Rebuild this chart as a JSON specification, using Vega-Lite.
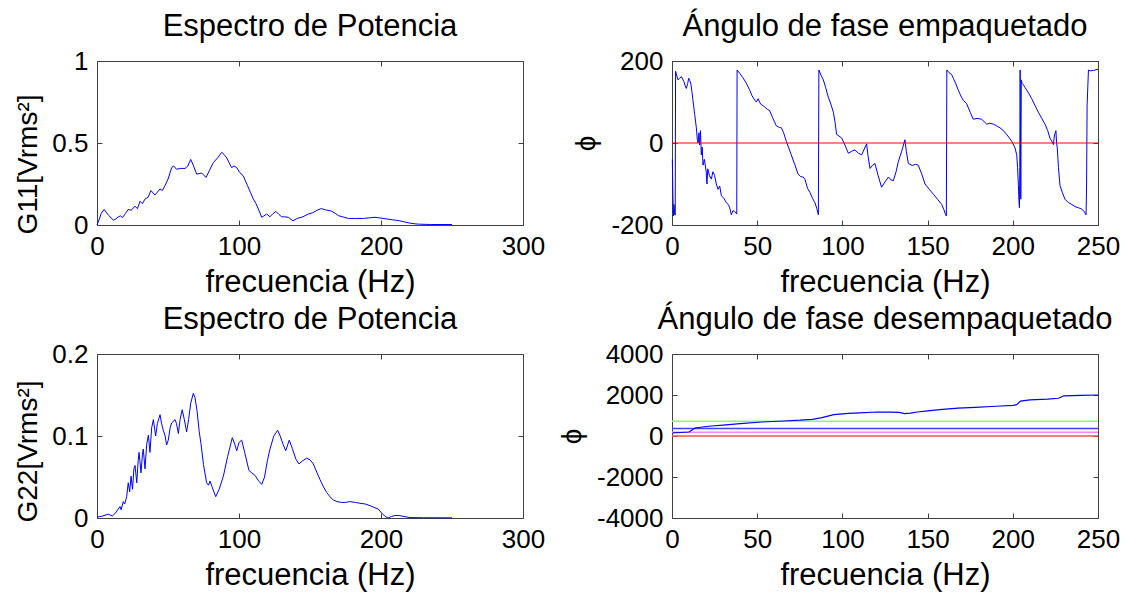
{
  "$schema": "https://vega.github.io/schema/vega-lite/v6.json",
  "padding": {"left": 14, "top": 10, "right": 5, "bottom": 2},
  "background": "#ffffff",
  "config": {
    "font": "Liberation Sans",
    "view": {"stroke": "#404040", "strokeWidth": 1},
    "title": {"fontSize": 31, "fontWeight": "normal", "font": "Liberation Sans", "color": "#000000", "offset": 5, "anchor": "middle", "frame": "group"},
    "axis": {"domain": false, "grid": false, "ticks": true, "tickSize": -5, "tickColor": "#404040", "labelFontSize": 26, "labelColor": "#000000", "labelFont": "Liberation Sans", "titleFont": "Liberation Sans", "titleFontSize": 28, "titleFontWeight": "normal", "titleColor": "#000000", "labelFlush": false, "labelOverlap": false, "labelExpr": "'' + datum.value"},
    "axisX": {"labelPadding": 13, "titlePadding": 8, "titleFontSize": 31},
    "axisY": {"labelPadding": 14, "titlePadding": 9}
  },
  "datasets": {
    "g11": [
      {"f":0,"v":0.0},{"f":1.4,"v":0.03},{"f":3,"v":0.07},{"f":5,"v":0.095},{"f":8,"v":0.06},{"f":11.5,"v":0.03},{"f":13,"v":0.035},{"f":15,"v":0.05},{"f":16.5,"v":0.055},{"f":18,"v":0.045},{"f":20,"v":0.07},{"f":22,"v":0.095},{"f":24,"v":0.09},{"f":26.8,"v":0.114},{"f":28.5,"v":0.1},{"f":30.3,"v":0.145},{"f":32,"v":0.13},{"f":33.8,"v":0.158},{"f":36,"v":0.17},{"f":38,"v":0.21},{"f":40.8,"v":0.183},{"f":42.5,"v":0.2},{"f":44.4,"v":0.22},{"f":46,"v":0.21},{"f":47.9,"v":0.24},{"f":50,"v":0.28},{"f":52.6,"v":0.35},{"f":54,"v":0.36},{"f":56,"v":0.34},{"f":59,"v":0.345},{"f":62,"v":0.345},{"f":64,"v":0.36},{"f":66,"v":0.4},{"f":68,"v":0.36},{"f":70.2,"v":0.31},{"f":73.7,"v":0.317},{"f":76.8,"v":0.29},{"f":79,"v":0.33},{"f":81.9,"v":0.38},{"f":85,"v":0.41},{"f":87.8,"v":0.443},{"f":89.5,"v":0.43},{"f":91.3,"v":0.41},{"f":93,"v":0.38},{"f":94.8,"v":0.35},{"f":96.5,"v":0.36},{"f":98.4,"v":0.35},{"f":100.5,"v":0.32},{"f":103,"v":0.3},{"f":106,"v":0.24},{"f":108,"v":0.2},{"f":110,"v":0.16},{"f":112,"v":0.13},{"f":114,"v":0.09},{"f":116,"v":0.047},{"f":117.5,"v":0.055},{"f":119.5,"v":0.067},{"f":121.8,"v":0.05},{"f":124,"v":0.07},{"f":126,"v":0.083},{"f":128,"v":0.065},{"f":130,"v":0.05},{"f":132,"v":0.05},{"f":134.7,"v":0.047},{"f":138,"v":0.026},{"f":141,"v":0.04},{"f":145,"v":0.05},{"f":148.8,"v":0.067},{"f":152,"v":0.075},{"f":155,"v":0.09},{"f":158,"v":0.1},{"f":161,"v":0.092},{"f":165,"v":0.085},{"f":168,"v":0.07},{"f":170,"v":0.057},{"f":173,"v":0.05},{"f":177,"v":0.04},{"f":182,"v":0.04},{"f":187.6,"v":0.04},{"f":192,"v":0.044},{"f":195.8,"v":0.047},{"f":200,"v":0.042},{"f":204,"v":0.037},{"f":208,"v":0.032},{"f":213,"v":0.026},{"f":217,"v":0.018},{"f":220,"v":0.012},{"f":224,"v":0.007},{"f":227,"v":0.005},{"f":235,"v":0.003},{"f":243,"v":0.003},{"f":250,"v":0.003}
    ],
    "g22": [
      {"f":0,"v":0.001},{"f":3,"v":0.002},{"f":8,"v":0.0046},{"f":10.8,"v":0.0025},{"f":13,"v":0.006},{"f":16.2,"v":0.014},{"f":17,"v":0.01},{"f":18.5,"v":0.02},{"f":19.5,"v":0.017},{"f":20.9,"v":0.026},{"f":22,"v":0.043},{"f":23,"v":0.032},{"f":24,"v":0.051},{"f":25,"v":0.035},{"f":26,"v":0.06},{"f":26.8,"v":0.064},{"f":28,"v":0.043},{"f":29,"v":0.07},{"f":29.6,"v":0.08},{"f":31,"v":0.055},{"f":32,"v":0.078},{"f":32.6,"v":0.084},{"f":33.8,"v":0.06},{"f":35,"v":0.09},{"f":36.2,"v":0.101},{"f":37.3,"v":0.08},{"f":38.5,"v":0.11},{"f":39.7,"v":0.12},{"f":41.3,"v":0.1},{"f":42.5,"v":0.115},{"f":44.4,"v":0.126},{"f":45.5,"v":0.115},{"f":46.7,"v":0.107},{"f":48,"v":0.1},{"f":49,"v":0.089},{"f":50.2,"v":0.095},{"f":51.5,"v":0.11},{"f":52.6,"v":0.116},{"f":55,"v":0.12},{"f":56,"v":0.115},{"f":57.3,"v":0.103},{"f":58.5,"v":0.12},{"f":60,"v":0.132},{"f":61.5,"v":0.12},{"f":63.1,"v":0.105},{"f":64.5,"v":0.12},{"f":66,"v":0.14},{"f":67.8,"v":0.152},{"f":69,"v":0.147},{"f":70.5,"v":0.13},{"f":72,"v":0.105},{"f":73.2,"v":0.091},{"f":75,"v":0.065},{"f":77.2,"v":0.043},{"f":78.5,"v":0.04},{"f":79.6,"v":0.045},{"f":81,"v":0.038},{"f":83.6,"v":0.026},{"f":86,"v":0.035},{"f":89,"v":0.051},{"f":92,"v":0.075},{"f":95.3,"v":0.098},{"f":97,"v":0.09},{"f":98.4,"v":0.082},{"f":100,"v":0.092},{"f":101.9,"v":0.095},{"f":104,"v":0.08},{"f":107,"v":0.058},{"f":109,"v":0.055},{"f":111.3,"v":0.052},{"f":113.5,"v":0.046},{"f":116,"v":0.041},{"f":118,"v":0.05},{"f":120,"v":0.07},{"f":121.8,"v":0.084},{"f":124.5,"v":0.1},{"f":127.2,"v":0.107},{"f":129,"v":0.1},{"f":131,"v":0.09},{"f":132.9,"v":0.082},{"f":135.4,"v":0.095},{"f":137.5,"v":0.085},{"f":140,"v":0.072},{"f":142.2,"v":0.066},{"f":145,"v":0.07},{"f":147.7,"v":0.073},{"f":150,"v":0.071},{"f":152.3,"v":0.066},{"f":155,"v":0.055},{"f":157,"v":0.047},{"f":159.5,"v":0.038},{"f":161.8,"v":0.031},{"f":164,"v":0.026},{"f":166.4,"v":0.022},{"f":169,"v":0.02},{"f":172.3,"v":0.019},{"f":175,"v":0.019},{"f":178,"v":0.02},{"f":182,"v":0.019},{"f":185.2,"v":0.018},{"f":189,"v":0.017},{"f":192.3,"v":0.015},{"f":195,"v":0.013},{"f":198,"v":0.011},{"f":200.5,"v":0.006},{"f":202.8,"v":0.002},{"f":205,"v":0.0},{"f":207.5,"v":0.002},{"f":209.9,"v":0.003},{"f":213,"v":0.003},{"f":215.6,"v":0.002},{"f":220.4,"v":0.0005},{"f":230,"v":0.0003},{"f":250,"v":0.0002}
    ],
    "wrapped": [
      {"f":0.2,"p":-40},{"f":0.5,"p":-120},{"f":0.8,"p":-178},{"f":1.2,"p":-150},{"f":1.6,"p":-175},{"f":1.9,"p":-176},{"f":2.1,"p":175},{"f":3.5,"p":154},{"f":4.5,"p":158},{"f":5.5,"p":162},{"f":7,"p":150},{"f":7.7,"p":140},{"f":8.4,"p":133},{"f":9.2,"p":145},{"f":9.8,"p":158},{"f":10.4,"p":152},{"f":11,"p":146},{"f":11.7,"p":125},{"f":12.3,"p":104},{"f":13.3,"p":70},{"f":14.3,"p":37},{"f":14.8,"p":10},{"f":15.3,"p":0},{"f":15.8,"p":25},{"f":16.2,"p":-5},{"f":16.7,"p":30},{"f":17.2,"p":-29},{"f":17.7,"p":-10},{"f":18.2,"p":-54},{"f":19,"p":-40},{"f":20.1,"p":-71},{"f":20.5,"p":-100},{"f":21,"p":-63},{"f":22,"p":-80},{"f":23.1,"p":-88},{"f":24,"p":-70},{"f":25,"p":-79},{"f":26,"p":-100},{"f":27,"p":-113},{"f":28,"p":-105},{"f":29,"p":-129},{"f":30.5,"p":-135},{"f":31.9,"p":-146},{"f":33,"p":-150},{"f":33.9,"p":-158},{"f":34.8,"p":-175},{"f":35.8,"p":-165},{"f":36.8,"p":-167},{"f":38,"p":-173},{"f":38.2,"p":178},{"f":39.7,"p":170},{"f":41.5,"p":160},{"f":43.6,"p":146},{"f":45.5,"p":130},{"f":47,"p":115},{"f":48.5,"p":105},{"f":49.5,"p":100},{"f":50.5,"p":108},{"f":52,"p":95},{"f":54.4,"p":88},{"f":56,"p":82},{"f":57.3,"p":79},{"f":59,"p":62},{"f":61.2,"p":42},{"f":63,"p":38},{"f":64.2,"p":37},{"f":65.5,"p":25},{"f":67.1,"p":4},{"f":68.5,"p":-12},{"f":70,"p":-29},{"f":72,"p":-52},{"f":73.9,"p":-75},{"f":75.5,"p":-82},{"f":76.9,"p":-83},{"f":78,"p":-88},{"f":79.5,"p":-110},{"f":81,"p":-121},{"f":82.5,"p":-135},{"f":83.9,"p":-146},{"f":85,"p":-160},{"f":85.9,"p":-175},{"f":86.2,"p":178},{"f":87.5,"p":165},{"f":88.8,"p":154},{"f":90.2,"p":135},{"f":91.7,"p":112},{"f":93.2,"p":95},{"f":94.7,"p":75},{"f":95.7,"p":50},{"f":96.6,"p":21},{"f":98,"p":17},{"f":99.6,"p":12},{"f":101.5,"p":-5},{"f":103.5,"p":-25},{"f":105.5,"p":-20},{"f":107.4,"p":-17},{"f":109.5,"p":-25},{"f":111.3,"p":-29},{"f":112.8,"p":-15},{"f":114.2,"p":-2},{"f":115,"p":-30},{"f":116.2,"p":-62},{"f":117.5,"p":-55},{"f":119.1,"p":-50},{"f":121,"p":-80},{"f":123,"p":-108},{"f":125,"p":-95},{"f":127,"p":-83},{"f":128.5,"p":-90},{"f":129.9,"p":-92},{"f":131.5,"p":-70},{"f":132.8,"p":-46},{"f":134.8,"p":-20},{"f":136.7,"p":8},{"f":137.5,"p":-20},{"f":138.7,"p":-50},{"f":141,"p":-55},{"f":142.8,"p":-52},{"f":144.5,"p":-54},{"f":146.5,"p":-75},{"f":148.5,"p":-100},{"f":151,"p":-113},{"f":153.4,"p":-125},{"f":156,"p":-138},{"f":158.3,"p":-150},{"f":159.5,"p":-162},{"f":160.6,"p":-175},{"f":161,"p":-178},{"f":161.3,"p":178},{"f":162.5,"p":172},{"f":164.1,"p":167},{"f":165.1,"p":158},{"f":166.5,"p":145},{"f":168,"p":129},{"f":169.5,"p":115},{"f":171,"p":104},{"f":172.9,"p":96},{"f":175,"p":75},{"f":176.8,"p":58},{"f":179,"p":60},{"f":181.7,"p":58},{"f":183.2,"p":52},{"f":184.7,"p":46},{"f":186.5,"p":48},{"f":188.6,"p":46},{"f":190.5,"p":42},{"f":192.5,"p":37},{"f":194.5,"p":30},{"f":196.4,"p":21},{"f":198,"p":12},{"f":199.4,"p":4},{"f":200.5,"p":-5},{"f":201.3,"p":-12},{"f":202.3,"p":-29},{"f":202.8,"p":-60},{"f":203.3,"p":-104},{"f":203.6,"p":-140},{"f":203.9,"p":-158},{"f":204.1,"p":-60},{"f":204.3,"p":178},{"f":204.5,"p":40},{"f":204.7,"p":-137},{"f":204.85,"p":30},{"f":205,"p":154},{"f":205.5,"p":145},{"f":206.2,"p":142},{"f":207.2,"p":135},{"f":208.2,"p":129},{"f":209.5,"p":120},{"f":211.1,"p":108},{"f":213,"p":92},{"f":215,"p":75},{"f":217,"p":60},{"f":218.9,"p":46},{"f":220.5,"p":30},{"f":221.8,"p":12},{"f":222.8,"p":5},{"f":223.8,"p":-4},{"f":224.5,"p":20},{"f":225.3,"p":30},{"f":225.7,"p":0},{"f":226.1,"p":-12},{"f":226.8,"p":-60},{"f":227.7,"p":-104},{"f":229,"p":-120},{"f":230.6,"p":-137},{"f":232.5,"p":-145},{"f":234.6,"p":-150},{"f":236.5,"p":-155},{"f":238.4,"p":-158},{"f":240,"p":-160},{"f":241.5,"p":-165},{"f":243,"p":-175},{"f":243.3,"p":-100},{"f":243.6,"p":92},{"f":244.4,"p":178},{"f":245.4,"p":176},{"f":247.5,"p":177},{"f":250,"p":180}
    ],
    "zero": [{"p":0}],
    "unwrapped": [
      {"f":0.5,"p":150},{"f":5,"p":170},{"f":10,"p":195},{"f":12,"p":300},{"f":13.4,"p":390},{"f":18,"p":440},{"f":23,"p":488},{"f":30,"p":530},{"f":40,"p":600},{"f":52.7,"p":683},{"f":65.4,"p":732},{"f":75,"p":770},{"f":82.4,"p":813},{"f":88,"p":900},{"f":95,"p":1040},{"f":103.6,"p":1100},{"f":110,"p":1130},{"f":120.6,"p":1170},{"f":128,"p":1160},{"f":133.3,"p":1150},{"f":136.5,"p":1090},{"f":140,"p":1120},{"f":144,"p":1170},{"f":150,"p":1230},{"f":158.8,"p":1300},{"f":168,"p":1360},{"f":177.9,"p":1400},{"f":190,"p":1450},{"f":200.2,"p":1496},{"f":202.3,"p":1528},{"f":204.5,"p":1700},{"f":210,"p":1760},{"f":220.4,"p":1800},{"f":226.8,"p":1840},{"f":230,"p":1960},{"f":240,"p":1980},{"f":250,"p":2000}
    ],
    "levels": [{"k":"r","p":0},{"k":"m","p":180},{"k":"b","p":360},{"k":"g","p":720}]
  },
  "columns": 2,
  "bounds": "flush",
  "align": "all",
  "spacing": {"row": 129, "column": 149},
  "concat": [
    {
      "width": 426, "height": 164,
      "title": {"text": "Espectro de Potencia"},
      "data": {"name": "g11"},
      "layer": [
        {"mark": {"type": "line", "color": "#0000ff", "strokeWidth": 1},
         "encoding": {
           "x": {"field": "f", "type": "quantitative", "scale": {"domain": [0, 300], "nice": false}, "axis": {"values": [0, 100, 200, 300], "title": "frecuencia (Hz)"}},
           "y": {"field": "v", "type": "quantitative", "scale": {"domain": [0, 1], "nice": false}, "axis": {"values": [0, 0.5, 1], "title": "G11[Vrms²]", "titleY": 103}}}},
        {"mark": {"type": "line", "opacity": 0},
         "encoding": {
           "x": {"field": "f", "type": "quantitative", "axis": {"orient": "top", "values": [0, 100, 200, 300], "labels": false, "title": null}},
           "y": {"field": "v", "type": "quantitative", "axis": {"orient": "right", "values": [0, 0.5, 1], "labels": false, "title": null}}}}
      ],
      "resolve": {"axis": {"x": "independent", "y": "independent"}}
    },
    {
      "width": 426, "height": 164,
      "title": {"text": "Ángulo de fase empaquetado"},
      "layer": [
        {"data": {"name": "wrapped"},
         "mark": {"type": "line", "color": "#0000ff", "strokeWidth": 1},
         "encoding": {
           "x": {"field": "f", "type": "quantitative", "scale": {"domain": [0, 250], "nice": false}, "axis": {"values": [0, 50, 100, 150, 200, 250], "title": "frecuencia (Hz)"}},
           "y": {"field": "p", "type": "quantitative", "scale": {"domain": [-200, 200], "nice": false}, "axis": {"values": [-200, 0, 200], "title": "ϕ", "titlePadding": 10}}}},
        {"data": {"name": "zero"},
         "mark": {"type": "rule", "color": "#ff0000", "strokeWidth": 1},
         "encoding": {
           "y": {"field": "p", "type": "quantitative", "axis": {"orient": "right", "values": [-200, 0, 200], "labels": false, "title": null}}}},
        {"data": {"name": "wrapped"},
         "mark": {"type": "line", "opacity": 0},
         "encoding": {
           "x": {"field": "f", "type": "quantitative", "axis": {"orient": "top", "values": [0, 50, 100, 150, 200, 250], "labels": false, "title": null}},
           "y": {"field": "p", "type": "quantitative", "axis": null}}}
      ],
      "resolve": {"axis": {"x": "independent", "y": "independent"}}
    },
    {
      "width": 426, "height": 164,
      "title": {"text": "Espectro de Potencia"},
      "data": {"name": "g22"},
      "layer": [
        {"mark": {"type": "line", "color": "#0000ff", "strokeWidth": 1},
         "encoding": {
           "x": {"field": "f", "type": "quantitative", "scale": {"domain": [0, 300], "nice": false}, "axis": {"values": [0, 100, 200, 300], "title": "frecuencia (Hz)"}},
           "y": {"field": "v", "type": "quantitative", "scale": {"domain": [0, 0.2], "nice": false}, "axis": {"values": [0, 0.1, 0.2], "title": "G22[Vrms²]", "titleY": 97}}}},
        {"mark": {"type": "line", "opacity": 0},
         "encoding": {
           "x": {"field": "f", "type": "quantitative", "axis": {"orient": "top", "values": [0, 100, 200, 300], "labels": false, "title": null}},
           "y": {"field": "v", "type": "quantitative", "axis": {"orient": "right", "values": [0, 0.1, 0.2], "labels": false, "title": null}}}}
      ],
      "resolve": {"axis": {"x": "independent", "y": "independent"}}
    },
    {
      "width": 426, "height": 164,
      "title": {"text": "Ángulo de fase desempaquetado"},
      "layer": [
        {"data": {"name": "levels"},
         "mark": {"type": "rule", "strokeWidth": 1.5},
         "encoding": {
           "y": {"field": "p", "type": "quantitative", "scale": {"domain": [-4000, 4000], "nice": false}, "axis": {"values": [-4000, -2000, 0, 2000, 4000], "title": "ϕ", "titlePadding": 10}},
           "color": {"field": "k", "type": "nominal", "scale": {"domain": ["r", "m", "b", "g"], "range": ["#ff5050", "#ff80ff", "#4040ff", "#80ff80"]}, "legend": null}}},
        {"data": {"name": "unwrapped"},
         "mark": {"type": "line", "color": "#0000ff", "strokeWidth": 1.2},
         "encoding": {
           "x": {"field": "f", "type": "quantitative", "scale": {"domain": [0, 250], "nice": false}, "axis": {"values": [0, 50, 100, 150, 200, 250], "title": "frecuencia (Hz)"}},
           "y": {"field": "p", "type": "quantitative", "axis": null}}},
        {"data": {"name": "unwrapped"},
         "mark": {"type": "line", "opacity": 0},
         "encoding": {
           "x": {"field": "f", "type": "quantitative", "axis": {"orient": "top", "values": [0, 50, 100, 150, 200, 250], "labels": false, "title": null}},
           "y": {"field": "p", "type": "quantitative", "axis": {"orient": "right", "values": [-4000, -2000, 0, 2000, 4000], "labels": false, "title": null}}}}
      ],
      "resolve": {"axis": {"x": "independent", "y": "independent"}}
    }
  ]
}
